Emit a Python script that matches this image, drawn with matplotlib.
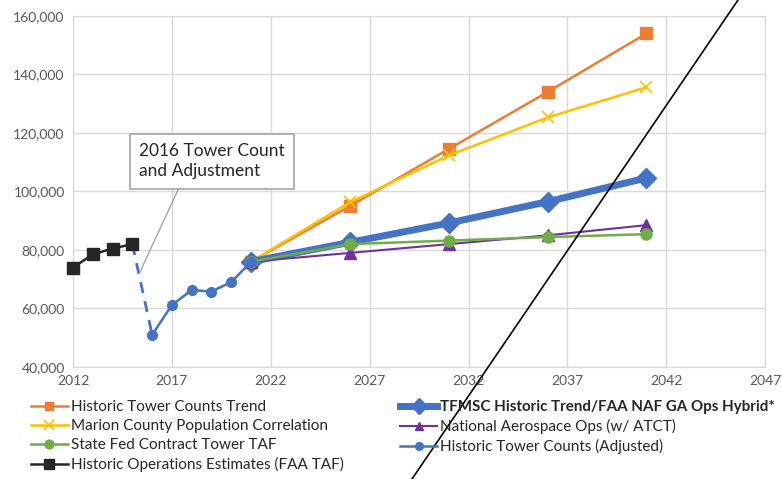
# 運用回数予測の比較チャート
import matplotlib
matplotlib.use('Agg')
import matplotlib.pyplot as plt
from matplotlib.lines import Line2D
from matplotlib.ticker import FuncFormatter

plt.rcParams['font.family'] = ['Lato', 'DejaVu Sans']

# データ
hist_years = [2012, 2013, 2014, 2015]
hist_ops = [74000, 78500, 80500, 82000]

adj_gap_years = [2015, 2016]
adj_gap_vals = [82000, 51000]
adj_years = [2016, 2017, 2018, 2019, 2020, 2021]
adj_vals = [51000, 61200, 66300, 65800, 69000, 76000]

fc_years = [2021, 2026, 2031, 2036, 2041]
trend = [76000, 95000, 114500, 134000, 154000]
marion = [76000, 96300, 112300, 125300, 135600]
state_taf = [76000, 82000, 83200, 84400, 85400]
hybrid = [76000, 82600, 89200, 96500, 104600]
nat_aero = [76000, 79000, 82000, 85000, 88500]

x_ticks = list(range(2012, 2048, 5))
y_ticks = list(range(40000, 160001, 20000))

fig = plt.figure(figsize=(7.82, 4.79), dpi=100)
ax = fig.add_axes([0.0934, 0.2338, 0.885, 0.733])

ax.plot(fc_years, trend, color='#ED7D31', lw=1.8, marker='s', ms=8, label='Historic Tower Counts Trend', zorder=3)
ax.plot(fc_years, marion, color='#FFC000', lw=1.8, marker='x', ms=9, mew=1.2, label='Marion County Population Correlation', zorder=3)
ax.plot(fc_years, state_taf, color='#70AD47', lw=1.8, marker='o', ms=8, label='State Fed Contract Tower TAF', zorder=4)
ax.plot(hist_years, hist_ops, color='#262626', lw=1.8, marker='s', ms=9, label='Historic Operations Estimates (FAA TAF)', zorder=3, clip_on=False)
ax.plot(fc_years, hybrid, color='#4472C4', lw=5, marker='D', ms=10, label='TFMSC Historic Trend/FAA NAF GA Ops Hybrid*', zorder=3)
ax.plot(fc_years, nat_aero, color='#7030A0', lw=1.5, marker='^', ms=8, label='National Aerospace Ops (w/ ATCT)', zorder=3)
ax.plot(adj_years, adj_vals, color='#4472C4', lw=1.8, marker='o', ms=7, label='Historic Tower Counts (Adjusted)', zorder=5)
ax.plot(adj_gap_years, adj_gap_vals, color='#4472C4', lw=2, ls=(0, (4, 3)), zorder=2)

ax.set_xlim(2012, 2047)
ax.set_ylim(40000, 160000)
ax.set_xticks(x_ticks)
ax.set_yticks(y_ticks)
ax.yaxis.set_major_formatter(FuncFormatter(lambda v, p: f'{int(v):,}'))
ax.tick_params(length=0, labelsize=10, labelcolor='#595959', pad=6)
ax.grid(True, color='#d9d9d9', lw=1)
ax.set_axisbelow(True)
for s in ax.spines.values():
    s.set_color('#d9d9d9')

# 注記
ax.annotate('2016 Tower Count\nand Adjustment', xy=(2015.35, 72000), xytext=(2015.35, 110300),
            fontsize=12.5, color='#262626', ha='left', va='center', linespacing=1.3,
            bbox=dict(boxstyle='square,pad=0.55', fc='white', ec='#a6a6a6', lw=1.2),
            arrowprops=dict(arrowstyle='-', color='#a6a6a6', lw=1,
                            shrinkA=0, shrinkB=0, relpos=(0.3, 0)))

leg = fig.legend(loc='upper left', bbox_to_anchor=(0.03, 0.18), ncol=2, frameon=False,
                 fontsize=11, handlelength=2.4, handletextpad=0.2, columnspacing=3.7,
                 labelspacing=0.32, borderpad=0, labelcolor='#262626', markerscale=0.8)
bold_txt = leg.get_texts()[4]
bold_txt.set_fontweight('bold')
bold_txt.set_fontsize(10.9)

# 手書きの斜線
fig.add_artist(Line2D([412 / 782, 738 / 782], [0, 1], color='black', lw=1.2))

fig.savefig('out.png', dpi=100)
